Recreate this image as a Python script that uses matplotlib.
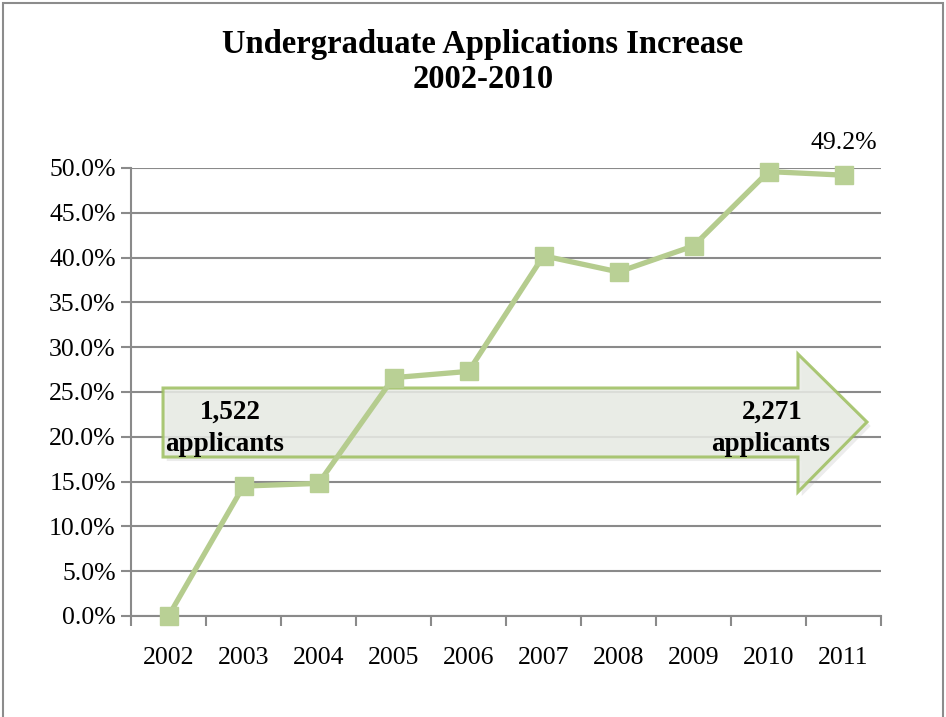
import matplotlib.pyplot as plt
from matplotlib.patches import Polygon, Rectangle
from matplotlib.ticker import PercentFormatter

years = ['2002', '2003', '2004', '2005', '2006', '2007', '2008', '2009', '2010', '2011']
increase = [0.0, 14.5, 14.8, 26.6, 27.3, 40.2, 38.4, 41.3, 49.6, 49.2]
yticks = [0, 5, 10, 15, 20, 25, 30, 35, 40, 45, 50]
start_count, end_count = '1,522', '2,271'
unit = 'applicants'

plt.rcParams['font.family'] = ['Liberation Serif', 'DejaVu Serif']

fig = plt.figure(figsize=(9.46, 7.17), dpi=100)
ax = fig.add_axes([131 / 946, 1 - 616 / 717, 750 / 946, 448 / 717])

# outer frame of the chart area
fig.patches.append(Rectangle((3 / 946, -0.05), 940 / 946, 1.05 - 3 / 717,
                             transform=fig.transFigure, fill=False,
                             edgecolor='#8c8c8c', linewidth=1.5))

grid_c = '#8a8a8a'
x = range(len(years))
ax.set_xlim(-0.5, len(years) - 0.5)
ax.set_ylim(0, 50)
ax.set_yticks(yticks)
ax.yaxis.set_major_formatter(PercentFormatter(decimals=1))
ax.set_xticks([i - 0.5 for i in range(len(years) + 1)], minor=False)
ax.set_xticklabels([])
ax.set_xticks(list(x), minor=True)
ax.set_xticklabels(years, minor=True)
ax.tick_params(axis='x', which='minor', length=0, pad=22, labelsize=18.5)
ax.tick_params(axis='x', which='major', length=7, width=1.5, color=grid_c, direction='out')
ax.tick_params(axis='y', length=7, width=1.5, color=grid_c, labelsize=18.5, pad=4)
ax.grid(axis='y', color=grid_c, linewidth=1.5)
ax.set_axisbelow(True)
for s in ['top', 'right']:
    ax.spines[s].set_visible(False)
for s in ['left', 'bottom']:
    ax.spines[s].set_color(grid_c)
    ax.spines[s].set_linewidth(1.5)

# big arrow behind the series
arrow_pts = [(0.0427, 0.5089), (0.8893, 0.5089), (0.8893, 0.5848), (0.9813, 0.4330),
             (0.8893, 0.2768), (0.8893, 0.3549), (0.0427, 0.3549)]
shadow = Polygon([(px + 0.005, py - 0.009) for px, py in arrow_pts], closed=True,
                 transform=ax.transAxes, facecolor='#a0a0a0', edgecolor='none',
                 alpha=0.2, zorder=2, clip_on=False)
ax.add_patch(shadow)
arrow = Polygon(arrow_pts, closed=True, transform=ax.transAxes,
                facecolor='#e9ece6', edgecolor='#9dbf5e', linewidth=2.2,
                alpha=0.85, zorder=3, clip_on=False)
ax.add_patch(arrow)

bold = dict(transform=ax.transAxes, fontsize=19.5, fontweight='bold',
            va='center', zorder=6)
ax.text(0.132, 0.455, start_count, ha='center', **bold)
ax.text(0.046, 0.382, unit, ha='left', **bold)
ax.text(0.896, 0.455, end_count, ha='right', **bold)
ax.text(0.932, 0.382, unit, ha='right', **bold)

ax.plot(list(x), increase, color='#b5cc8e', linewidth=3.8, marker='s',
        markersize=13, markerfacecolor='#b9d095', markeredgecolor='#b9d095',
        zorder=5, clip_on=False)

ax.annotate(f'{increase[-1]:.1f}%', (len(years) - 1, increase[-1]),
            xytext=(0, 15), textcoords='offset points', ha='center', va='bottom',
            fontsize=18.5)

fig.text(483 / 946, 1 - 62 / 717, 'Undergraduate Applications Increase\n2002-2010',
         ha='center', va='center', fontsize=23.5, fontweight='bold', linespacing=1.15)

fig.savefig('out.png', dpi=100)
